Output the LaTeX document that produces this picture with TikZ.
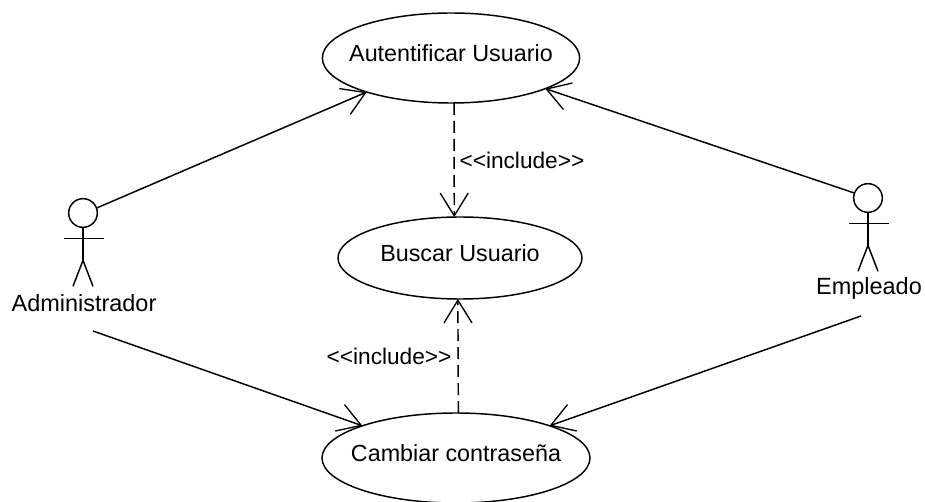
\documentclass[tikz,border=0pt]{standalone}
\usepackage{fontspec}
\setmainfont{Liberation Sans}
\usetikzlibrary{arrows.meta,shapes.geometric}
\newcommand{\ucname}[1]{\raisebox{-2.5pt}[0pt][0pt]{\makebox[0pt]{#1}}}
\begin{document}
\begin{tikzpicture}[x=0.75pt,y=-0.75pt,inner sep=0pt,outer sep=0pt,line width=1.1pt,
>={Straight Barb[length=17pt,width=21pt,line width=1pt]},
usecase/.style={draw,ellipse,minimum width=193pt,minimum height=67.5pt,font=\fontsize{17.5}{20}\selectfont},
actorhead/.style={draw,circle,minimum size=21.5pt},
actorname/.style={font=\fontsize{17.6}{20}\selectfont},
includeline/.style={->,dashed,dash pattern=on 9pt off 4.5pt},
includetext/.style={font=\fontsize{17}{20}\selectfont}]

\clip (0,0) rectangle (925,502);

\draw (451,58) node[usecase] (auth) {\ucname{Autentificar Usuario}};
\draw (460,258) node[usecase,minimum width=183pt,minimum height=61.5pt] (search) {\ucname{Buscar Usuario}};
\draw (456,458) node[usecase,minimum width=201pt] (passwd) {\ucname{Cambiar contraseña}};

% Administrador
\draw (83,213) node[actorhead] (adminhead) {};
\draw (adminhead.south) -- ++(0,33) coordinate (adminhip);
\draw (adminhip) ++(-19,-22) coordinate (adminarm) -- ++(40,0);
\draw (adminhip) -- ++(-10,26);
\draw (adminhip) -- ++(10,26);
\draw (84,303) node[actorname] (admin) {Administrador};

% Empleado
\draw (868,198) node[actorhead] (emphead) {};
\draw (emphead.south) -- ++(0,33) coordinate (emphip);
\draw (emphip) ++(-19,-22) coordinate (emparm) -- ++(40,0);
\draw (emphip) -- ++(-10,26);
\draw (emphip) -- ++(10,26);
\draw (869,288) node[actorname] (emp) {Empleado};

\draw[->] (adminhead.20) -- (auth.-158);
\draw[->] (emphead.160) -- (auth.-18);
\draw[->] (84,331) ++(9,0) coordinate (adminout) -- (passwd.161);
\draw[->] (869,316) ++(-8,0) coordinate (empout) -- (passwd.19);

\draw[includeline] (auth.-86) -- (search.98) node[midway,right=4pt,includetext] (inc1) {<{}<include>{}>};
\draw[includeline] (passwd.87.5) -- (search.-93) node[midway,left=5pt,includetext] (inc2) {<{}<include>{}>};
\end{tikzpicture}
\end{document}
